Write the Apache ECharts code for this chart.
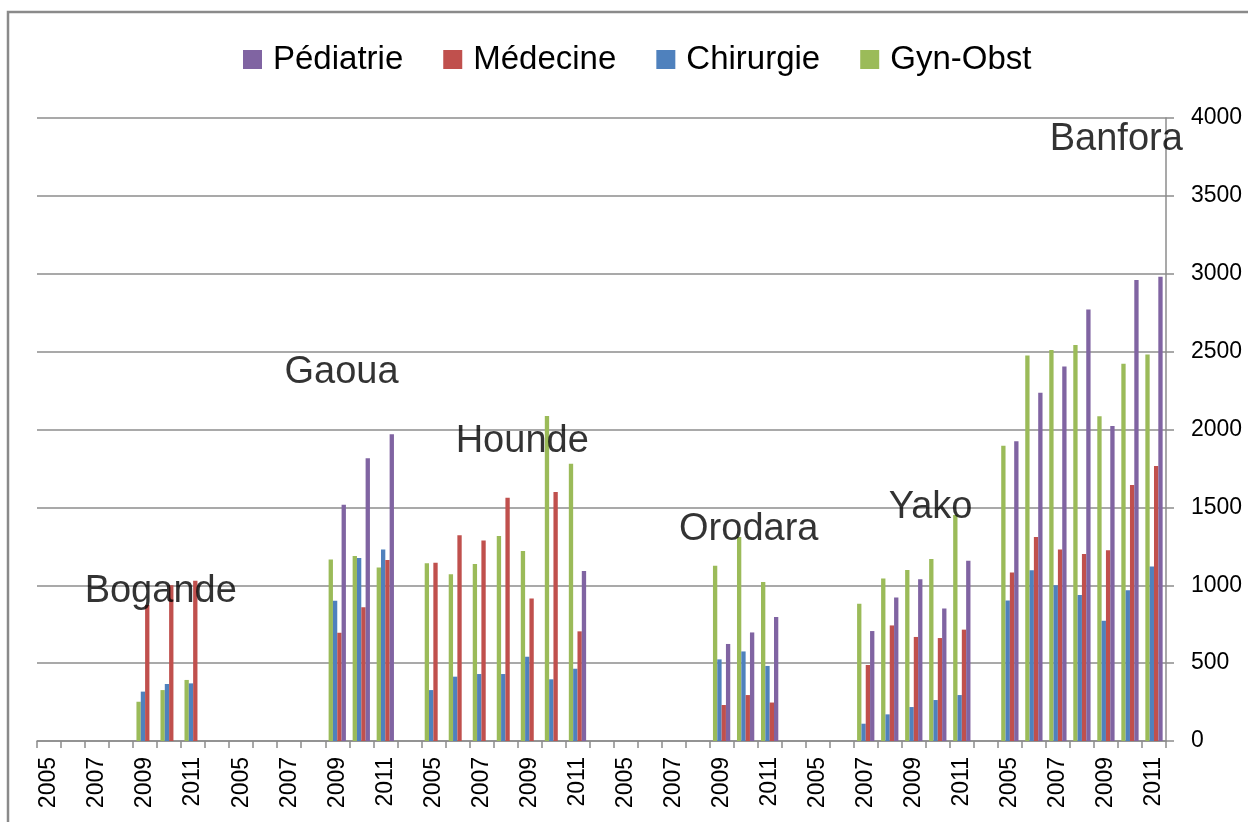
<!DOCTYPE html>
<html>
<head>
<meta charset="utf-8">
<script src="https://cdn.jsdelivr.net/npm/echarts@6/dist/echarts.min.js"></script>
<style>
html,body{margin:0;padding:0;background:#fff;}
#chart{width:1248px;height:822px;}
</style>
</head>
<body>
<div id="chart"></div>
<script>
// ---- data ----
const years = ['2005','2006','2007','2008','2009','2010','2011'];
const hospitals = ['Bogande','Gaoua','Hounde','Orodara','Yako','Banfora'];
const legendOrder = ['Pédiatrie','Médecine','Chirurgie','Gyn-Obst'];
const yTicks = [0,500,1000,1500,2000,2500,3000,3500,4000];

// values per hospital, years 2005..2011
const gynObst = [
  [null,null,null,null,252,327,392],
  [null,null,null,null,1166,1188,1114],
  [1141,1070,1136,1316,1220,2087,1780],
  [null,null,null,null,1126,1310,1021],
  [null,null,882,1043,1098,1169,1451],
  [1895,2475,2510,2543,2085,2422,2481]
];
const chirurgie = [
  [null,null,null,null,317,366,370],
  [null,null,null,null,901,1175,1229],
  [327,413,430,430,541,396,464],
  [null,null,null,null,524,575,482],
  [null,null,111,171,218,263,295],
  [902,1097,1000,938,772,968,1121]
];
const medecine = [
  [null,null,null,null,873,1000,1029],
  [null,null,null,null,695,858,1162],
  [1145,1321,1288,1562,915,1599,704],
  [null,null,null,null,231,295,247],
  [null,null,488,742,668,661,715],
  [1082,1310,1230,1201,1224,1644,1766]
];
const pediatrie = [
  [null,null,null,null,null,null,null],
  [null,null,null,null,1517,1815,1969],
  [null,null,null,null,null,null,1091],
  [null,null,null,null,623,697,796],
  [null,null,706,922,1038,850,1158],
  [1925,2236,2404,2770,2022,2960,2981]
];

// hospital name annotations (category-position, value)
const labelAtCategory = [4.65, 12.18, 19.7, 29.13, 36.7, 44.43];
const labelAtValue = [957, 2369, 1926, 1355, 1496, 3865];

// ---- build ----
const categories = [];
hospitals.forEach((h, i) => {
  years.forEach(y => categories.push(y));
  if (i < hospitals.length - 1) categories.push('');
});
function flatten(arr) {
  const out = [];
  arr.forEach((g, i) => {
    g.forEach(v => out.push(v));
    if (i < arr.length - 1) out.push(null);
  });
  return out;
}
const nCat = categories.length;

const colors = {
  'Pédiatrie': '#8064A2',
  'Médecine': '#C0504D',
  'Chirurgie': '#4F81BD',
  'Gyn-Obst': '#9BBB59'
};
const FONT = 'Liberation Sans, Arial, sans-serif';

function barSeries(name, arr) {
  return {
    name: name,
    type: 'bar',
    data: flatten(arr),
    barGap: '0%',
    barCategoryGap: '28%',
    itemStyle: { color: colors[name] },
    xAxisIndex: 0, yAxisIndex: 0
  };
}

const chart = echarts.init(document.getElementById('chart'), null, {renderer: 'canvas'});
chart.setOption({
  animation: false,
  backgroundColor: '#fff',
  textStyle: { fontFamily: FONT },
  legend: {
    data: legendOrder,
    left: 238, top: 38,
    icon: 'rect',
    itemWidth: 19, itemHeight: 19,
    itemGap: 40,
    textStyle: { fontSize: 33, color: '#000', fontFamily: FONT, padding: [0,0,0,6] }
  },
  grid: { left: 37, right: 82, top: 118, bottom: 81, containLabel: false },
  xAxis: [{
    type: 'category',
    data: categories,
    boundaryGap: true,
    axisLine: { show: true, onZero: false, lineStyle: { color: '#8c8c8c', width: 1.5 } },
    axisTick: { show: true, interval: 0, length: 7, lineStyle: { color: '#8c8c8c', width: 1.5 } },
    axisLabel: { interval: 1, rotate: 90, fontSize: 23, color: '#000', margin: 16, fontFamily: FONT },
    splitLine: { show: false }
  }, {
    type: 'value', min: -0.5, max: nCat - 0.5, show: false,
    axisLine: { show: false, onZero: false }, splitLine: { show: false },
    axisTick: { show: false }, axisLabel: { show: false }
  }],
  yAxis: [{
    type: 'value',
    position: 'right',
    min: yTicks[0], max: yTicks[yTicks.length - 1], interval: 500,
    axisLine: { show: true, onZero: false, lineStyle: { color: '#8c8c8c', width: 1.5 } },
    axisTick: { show: true, length: 8, lineStyle: { color: '#8c8c8c', width: 1.5 } },
    axisLabel: { fontSize: 23, color: '#000', margin: 25, fontFamily: FONT, formatter: v => String(v) },
    splitLine: { show: true, lineStyle: { color: '#8c8c8c', width: 1.5 } }
  }],
  series: [
    barSeries('Gyn-Obst', gynObst),
    barSeries('Chirurgie', chirurgie),
    barSeries('Médecine', medecine),
    barSeries('Pédiatrie', pediatrie),
    {
      name: 'labels',
      type: 'scatter',
      xAxisIndex: 1, yAxisIndex: 0,
      symbolSize: 0,
      z: 10,
      silent: true,
      data: hospitals.map((h, i) => ({ name: h, value: [labelAtCategory[i], labelAtValue[i]] })),
      label: {
        show: true, position: 'inside', formatter: p => p.name,
        fontSize: 38, color: '#000', fontFamily: FONT
      }
    }
  ],
  graphic: [{
    type: 'polyline',
    silent: true,
    shape: { points: [[8, 822], [8, 12], [1248, 12]] },
    style: { stroke: '#8a8a8a', lineWidth: 2.5, fill: null }
  }]
});
</script>
</body>
</html>
